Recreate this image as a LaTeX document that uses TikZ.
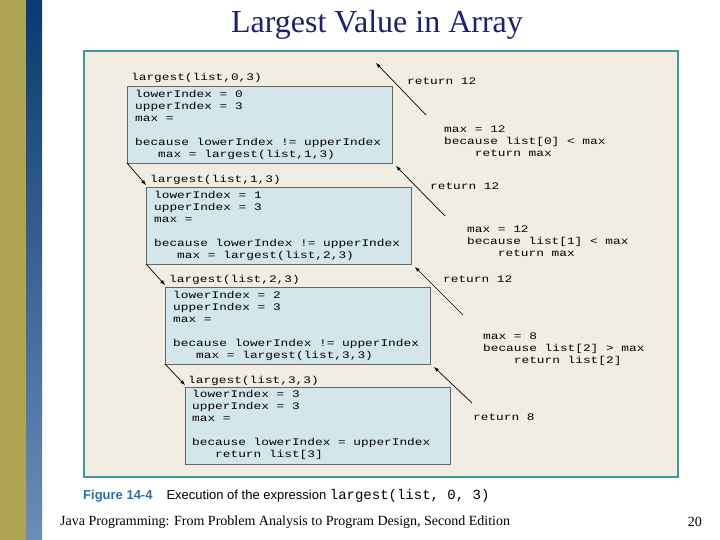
\documentclass[tikz,border=0pt]{standalone}
\usepackage{fontspec}
\setmainfont{Liberation Serif}
\newfontfamily\codefont[FakeStretch=1.28]{Liberation Mono}
\newfontfamily\capsans{Liberation Sans}
\newfontfamily\capmono{Liberation Mono}
\definecolor{olive}{HTML}{B0A552}
\definecolor{navtop}{HTML}{0A3A6E}
\definecolor{navbot}{HTML}{6C8CBA}
\definecolor{panel}{HTML}{F1EDE3}
\definecolor{teal}{HTML}{3C9A9C}
\definecolor{boxfill}{HTML}{D3E6EC}
\definecolor{titleblue}{HTML}{1E1E78}
\definecolor{figblue}{HTML}{2A6EB0}
\tikzset{
  code/.style={anchor=west,inner sep=0pt,font=\codefont\fontsize{10}{12}\selectfont,align=left},
  frame/.style={draw=gray!80!black,fill=boxfill,line width=0.6pt},
  arr/.style={-latex,line width=0.7pt}
}
\begin{document}
\begin{tikzpicture}[x=1pt,y=-1pt]
\useasboundingbox (0,0) rectangle (720,540);
\fill[white] (0,0) rectangle (720,540);
\fill[olive] (0,0) rectangle (26,540);
\shade[top color=navtop,bottom color=navbot] (26,0) rectangle (42,540);
\node[font=\fontsize{32}{36}\selectfont,text=titleblue] (title) at (377,25) {Largest Value in Array};
\draw[teal,line width=1.5pt,fill=panel] (84,51) rectangle (678,477);
% boxes
\foreach \i/\x/\y in {1/127/86,2/146/187,3/165/287,4/185/387}{
  \draw[frame] (\x,\y) rectangle ++(265,77);
  \coordinate (bl\i) at (\x,\y+77);
  \coordinate (br\i) at (\x+265,\y+77);
}
\node[code] (l1) at (131,78) {largest(list,0,3)};
\node[code] (b1) at (135,125) {lowerIndex = 0\\upperIndex = 3\\max =\\[12pt]because lowerIndex != upperIndex\\\ \ \ max = largest(list,1,3)};
\node[code] (l2) at (150,180) {largest(list,1,3)};
\node[code] (b2) at (154,226) {lowerIndex = 1\\upperIndex = 3\\max =\\[12pt]because lowerIndex != upperIndex\\\ \ \ max = largest(list,2,3)};
\node[code] (l3) at (169,280) {largest(list,2,3)};
\node[code] (b3) at (173,326) {lowerIndex = 2\\upperIndex = 3\\max =\\[12pt]because lowerIndex != upperIndex\\\ \ \ max = largest(list,3,3)};
\node[code] (l4) at (188,381) {largest(list,3,3)};
\node[code] (b4) at (192,425) {lowerIndex = 3\\upperIndex = 3\\max =\\[12pt]because lowerIndex = upperIndex\\\ \ \ return list[3]};
% right texts
\node[code] (r1) at (407,81) {return 12};
\node[code] (m1) at (444,141) {max = 12\\because list[0] < max\\\ \ \ \ return max};
\node[code] (r2) at (430,186) {return 12};
\node[code] (m2) at (467,241) {max = 12\\because list[1] < max\\\ \ \ \ return max};
\node[code] (r3) at (443,279) {return 12};
\node[code] (m3) at (483,349) {max = 8\\because list[2] > max\\\ \ \ \ return list[2]};
\node[code] (r4) at (473,417) {return 8};
% down arrows
\draw[arr] (bl1) -- (146,185);
\draw[arr] (bl2) -- (165,285);
\draw[arr] (bl3) -- (185,385);
% up arrows
\coordinate (top) at (376,63);
\coordinate (t1) at (426,115);
\coordinate (t2) at (445,216);
\coordinate (t3) at (463,315);
\coordinate (t4) at (472,403);
\draw[arr] (t1) -- (top);
\draw[arr] (t2) -- ([shift={(4,3)}]br1);
\draw[arr] (t3) -- ([shift={(4,3)}]br2);
\draw[arr] (t4) -- ([shift={(4,3)}]br3);
% caption
\node[anchor=west,inner sep=0pt,font=\capsans\fontsize{13}{15}\selectfont] (cap) at (83,496) {\textcolor{figblue}{\textbf{Figure 14-4}}\hspace{14pt}Execution of the expression {\capmono\fontsize{14}{15}\selectfont largest(list, 0, 3)}};
\node[anchor=west,inner sep=0pt,font=\fontsize{14}{16}\selectfont] (foot) at (60,522) {Java Programming: From Problem Analysis to Program Design, Second Edition};
\node[anchor=east,inner sep=0pt,font=\fontsize{14}{16}\selectfont] (pg) at (702,522) {20};
\end{tikzpicture}
\end{document}
